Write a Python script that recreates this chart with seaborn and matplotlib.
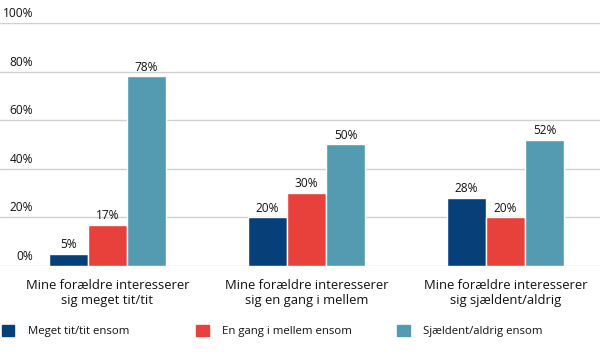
import matplotlib.pyplot as plt
import matplotlib.patches as mpatches
import pandas as pd
import seaborn as sns

# data
groups = ["Mine forældre interesserer\nsig meget tit/tit",
          "Mine forældre interesserer\nsig en gang i mellem",
          "Mine forældre interesserer\nsig sjældent/aldrig"]
series = ["Meget tit/tit ensom", "En gang i mellem ensom", "Sjældent/aldrig ensom"]
meget_tit = [5, 20, 28]
en_gang = [17, 30, 20]
sjaeldent = [78, 50, 52]
colors = ["#073f78", "#e8413b", "#549bb1"]

df = pd.DataFrame({
    "group": groups * 3,
    "serie": [s for s in series for _ in groups],
    "value": meget_tit + en_gang + sjaeldent,
})

sns.set_style("white")
plt.rcParams['font.family'] = ['Open Sans', 'DejaVu Sans']

fig = plt.figure(figsize=(6, 3.59), dpi=100)
ax = fig.add_axes([0, 0.259, 1, 0.677])

sns.barplot(data=df, x="group", y="value", hue="serie", order=groups,
            hue_order=series, palette=colors, width=0.59, gap=0,
            saturation=1, ax=ax, legend=False)

ax.set_xlim(-0.54, 2.475)
ax.set_ylim(0, 100)
for s in ax.spines.values():
    s.set_visible(False)
for v in range(0, 101, 20):
    ax.axhline(v, color="#d0d0d0", lw=1, zorder=0)
    ax.text(0.055, v + 1.2, f"{v}%", transform=ax.get_yaxis_transform(),
            ha="right", va="bottom", fontsize=8.6, color="#111111")
ax.set_yticks([])
ax.set_xlabel("")
ax.set_ylabel("")
ax.tick_params(axis="x", length=0, pad=9, labelsize=9.4, labelcolor="#111111")

for c in ax.containers:
    ax.bar_label(c, labels=[f"{v:.0f}%" for v in c.datavalues], padding=2,
                 fontsize=8.6, color="#111111")

xs = [0.003, 0.327, 0.662]
for s, col, x in zip(series, colors, xs):
    h = mpatches.Patch(color=col, label=s)
    fig.legend(handles=[h], loc="center left", bbox_to_anchor=(x, 0.078),
               frameon=False, fontsize=8.2, handlelength=1.1, handleheight=1.1,
               handletextpad=1.2, borderaxespad=0, borderpad=0,
               labelcolor="#111111")

fig.savefig("out.png", dpi=100)
